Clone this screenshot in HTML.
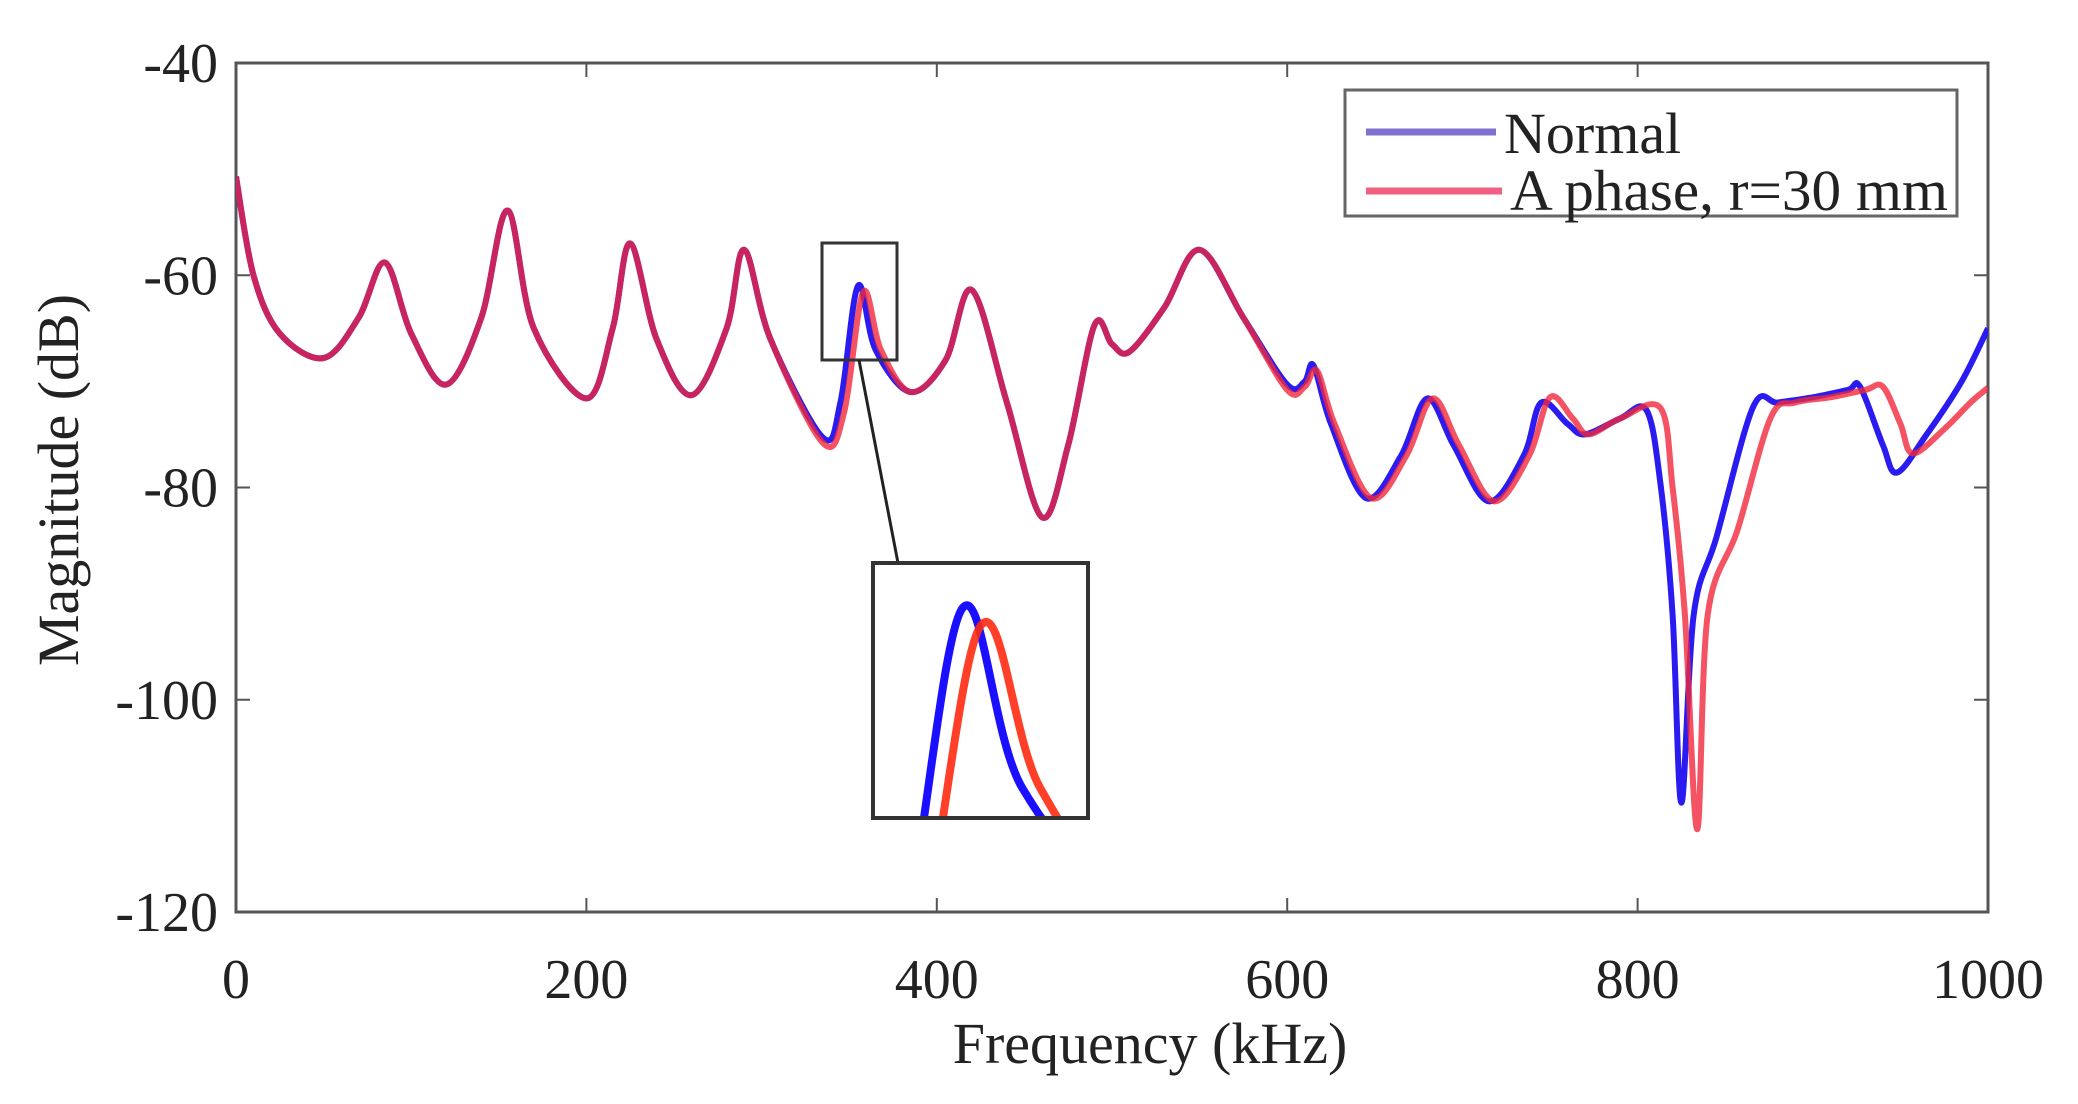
<!DOCTYPE html>
<html><head><meta charset="utf-8"><style>
html,body{margin:0;padding:0;background:#fff;width:2078px;height:1104px;overflow:hidden}
svg{display:block}
svg text{font-family:"Liberation Serif",serif;fill:#222}
</style></head><body>
<svg id="chart" width="2078" height="1104" viewBox="0 0 2078 1104" xmlns="http://www.w3.org/2000/svg"></svg>
<script>
const xTicks=[0,200,400,600,800,1000];
const yTicks=[-40,-60,-80,-100,-120];
const normalFreq=[0,10,25,50,70,85,100,120,140,155,170,200,215,225,240,260,280,290,305,335,345,355,365,385,405,420,440,460,475,490,500,510,530,550,575,600,610,615,625,645,665,680,695,715,735,745,760,770,790,805,813,820,825,832,845,866,880,900,920,927,940,948,965,985,1000];
const normalMag=[-50.7,-60,-65.5,-67.8,-64,-58.8,-65.5,-70.3,-64,-53.9,-65,-71.6,-65,-57,-66,-71.3,-65,-57.6,-66,-75.3,-72,-61,-67,-71,-68,-61.4,-72,-82.8,-76,-64.7,-66.5,-67.2,-63,-57.6,-64,-70.3,-70,-68.5,-74,-81,-77,-71.6,-76,-81.3,-77,-72,-74,-75,-73.5,-72.7,-79.6,-92,-109.7,-92,-84.7,-72.4,-72,-71.5,-70.8,-70.5,-76,-78.6,-75,-70,-65];
const faultFreq=[0,10,25,50,70,85,100,120,140,155,170,200,215,225,240,260,280,290,305,335,347,358,368,385,405,420,440,460,475,490,500,510,530,550,575,600,610,617,627,648,668,683,698,718,738,750,763,772,790,813,820,827,834,840,857,876,890,910,930,940,950,957,975,990,1000];
const faultMag=[-50.7,-60,-65.5,-67.8,-64,-58.8,-65.5,-70.3,-64,-53.9,-65,-71.6,-65,-57,-66,-71.3,-65,-57.6,-66,-75.8,-73,-61.6,-67,-71,-68,-61.4,-72,-82.8,-76,-64.7,-66.5,-67.2,-63,-57.6,-64,-70.8,-70.5,-69,-74,-81,-77,-71.6,-76,-81.3,-77,-71.5,-73.5,-75,-73.5,-72.5,-80,-92,-112.2,-92,-84,-73.4,-72,-71.5,-70.8,-70.5,-74,-76.8,-74.5,-72,-70.6];

const L=236,R=1988,T=63,B=912;
const xS=v=>L+(v-0)/(1000-0)*(R-L);
const yS=v=>T+(-40-v)/(-40-(-120))*(B-T);
const svg=document.getElementById('chart');
const NS='http://www.w3.org/2000/svg';
function mk(tag,attrs,parent){const e=document.createElementNS(NS,tag);for(const k in attrs)e.setAttribute(k,attrs[k]);(parent||svg).appendChild(e);return e;}
function pathD(fx,fy,xs,ys){
  const p=xs.map((x,i)=>[fx(x),fy(ys[i])]);
  let d='M'+p[0][0].toFixed(1)+','+p[0][1].toFixed(1);
  for(let i=0;i<p.length-1;i++){
    const p0=p[Math.max(0,i-1)],p1=p[i],p2=p[i+1],p3=p[Math.min(p.length-1,i+2)];
    const c1=[p1[0]+(p2[0]-p0[0])/6,p1[1]+(p2[1]-p0[1])/6];
    const c2=[p2[0]-(p3[0]-p1[0])/6,p2[1]-(p3[1]-p1[1])/6];
    d+=' C'+c1[0].toFixed(1)+','+c1[1].toFixed(1)+' '+c2[0].toFixed(1)+','+c2[1].toFixed(1)+' '+p2[0].toFixed(1)+','+p2[1].toFixed(1);
  }
  return d;
}
const defs=mk('defs',{});
const cp=mk('clipPath',{id:'plotclip'},defs);mk('rect',{x:L,y:T,width:R-L,height:B-T},cp);
const box=mk('rect',{x:L,y:T,width:R-L,height:B-T,fill:'none',stroke:'#555','stroke-width':3});


xTicks.forEach(v=>{
  const x=xS(v);
  mk('line',{x1:x,y1:B,x2:x,y2:B-14,stroke:'#555','stroke-width':2});
  mk('line',{x1:x,y1:T,x2:x,y2:T+14,stroke:'#555','stroke-width':2});
  const t=mk('text',{x:x,y:998,'text-anchor':'middle','font-size':56});
  t.textContent=v;
  
  
});
yTicks.forEach(v=>{
  const y=yS(v);
  mk('line',{x1:L,y1:y,x2:L+14,y2:y,stroke:'#555','stroke-width':2});
  mk('line',{x1:R,y1:y,x2:R-14,y2:y,stroke:'#555','stroke-width':2});
  const t=mk('text',{x:218,y:y+19,'text-anchor':'end','font-size':56});
  t.textContent=v;
  
  
});
const xt=mk('text',{x:1150,y:1063,'text-anchor':'middle','font-size':58});
xt.textContent='Frequency (kHz)';


const yt=mk('text',{x:0,y:0,'text-anchor':'middle','font-size':58,transform:'translate(78,480) rotate(-90)'});
yt.textContent='Magnitude (dB)';


const g=mk('g',{'clip-path':'url(#plotclip)'});
const sb=mk('path',{d:pathD(xS,yS,normalFreq,normalMag),fill:'none',stroke:'#2a1cf0','stroke-width':6,'stroke-linejoin':'round'},g);


const sr=mk('path',{d:pathD(xS,yS,faultFreq,faultMag),fill:'none',stroke:'#f0283c','stroke-width':6,'stroke-opacity':0.8,'stroke-linejoin':'round'},g);


const zb=mk('rect',{x:822,y:243,width:75,height:117,fill:'none',stroke:'#333','stroke-width':3});


mk('line',{x1:859,y1:360,x2:898,y2:563,stroke:'#222','stroke-width':3});
const ix0=873,ix1=1088,iy0=563,iy1=818;
const ixS=v=>ix0+(v-340)/(376-340)*(ix1-ix0);
const iyS=v=>iy0+(-59.5-v)/(-59.5-(-68))*(iy1-iy0);
const cp2=mk('clipPath',{id:'insetclip'},defs);mk('rect',{x:ix0,y:iy0,width:ix1-ix0,height:iy1-iy0},cp2);
mk('rect',{x:ix0,y:iy0,width:ix1-ix0,height:iy1-iy0,fill:'#fff'});
const ig=mk('g',{'clip-path':'url(#insetclip)'});
const ib=mk('path',{d:pathD(ixS,iyS,normalFreq,normalMag),fill:'none',stroke:'#1a10ff','stroke-width':8},ig);


const ir=mk('path',{d:pathD(ixS,iyS,faultFreq,faultMag),fill:'none',stroke:'#ff2a10','stroke-width':8,'stroke-opacity':0.9},ig);


const ibx=mk('rect',{x:ix0,y:iy0,width:ix1-ix0,height:iy1-iy0,fill:'none',stroke:'#333','stroke-width':4});


const lg=mk('g',{});


mk('rect',{x:1345,y:90,width:612,height:126,fill:'#fff',stroke:'#666','stroke-width':3},lg);
mk('line',{x1:1366,y1:132,x2:1496,y2:132,stroke:'#8070d0','stroke-width':7},lg);
mk('line',{x1:1366,y1:191,x2:1502,y2:191,stroke:'#f06080','stroke-width':7},lg);
const l1=mk('text',{x:1504,y:153,'font-size':58},lg);l1.textContent='Normal';


const l2=mk('text',{x:1510,y:210,'font-size':58,textLength:438,lengthAdjust:'spacingAndGlyphs'},lg);l2.textContent='A phase, r=30 mm';


</script>
</body></html>
